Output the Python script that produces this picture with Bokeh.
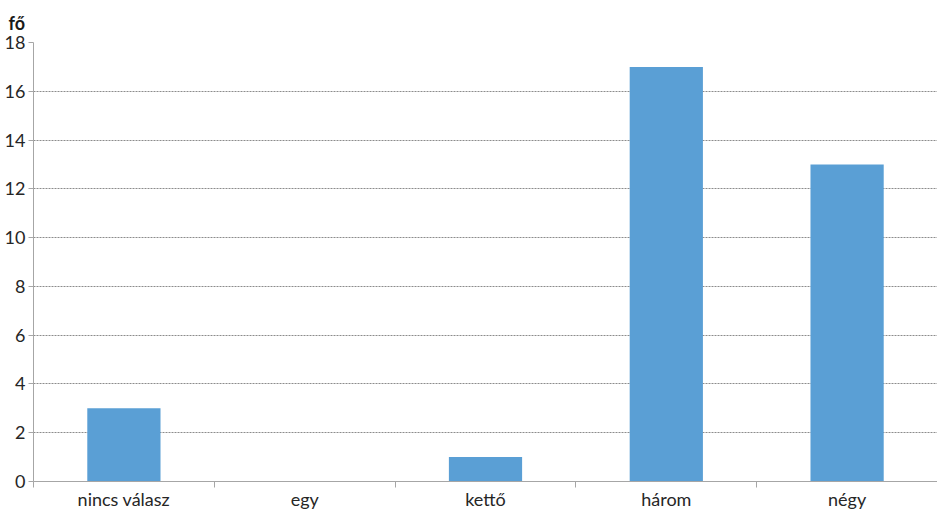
from bokeh.plotting import figure
from bokeh.models import ColumnDataSource, FixedTicker, Range1d, Title
from bokeh.embed import file_html
from bokeh.resources import INLINE

categories = ["nincs válasz", "egy", "kettő", "három", "négy"]
values = [3, 0, 1, 17, 13]
y_ticks = [0, 2, 4, 6, 8, 10, 12, 14, 16, 18]
y_unit = "fő"

xs = [i + 0.5 for i in range(len(categories))]
src = ColumnDataSource(dict(x=xs, top=values, cat=categories))

p = figure(width=937, height=512, output_backend="svg", toolbar_location=None,
           x_range=Range1d(0, len(categories)), y_range=Range1d(0, 18),
           min_border_left=33, min_border_right=0, min_border_top=40, min_border_bottom=10)
p.outline_line_color = None
p.background_fill_color = "white"
p.border_fill_color = "white"

p.vbar(x="x", top="top", width=0.405, bottom=0, source=src, color="#5A9FD5", line_color=None)

FONT = "Lato"
xt = FixedTicker(ticks=xs, minor_ticks=list(range(len(categories) + 1)))
p.xaxis.ticker = xt
p.xaxis.major_label_overrides = {x: c for x, c in zip(xs, categories)}
p.xaxis.major_tick_out = 0
p.xaxis.major_tick_in = 0
p.xaxis.minor_tick_out = 6
p.xaxis.minor_tick_in = 0
p.xaxis.minor_tick_line_color = "#a6a6a6"
p.xaxis.axis_line_color = "#a6a6a6"
p.xaxis.major_label_standoff = 0
p.xaxis.major_label_text_font = FONT
p.xaxis.major_label_text_font_size = "18px"
p.xaxis.major_label_text_color = "#262626"

p.yaxis.ticker = FixedTicker(ticks=y_ticks)
p.yaxis.minor_tick_line_color = None
p.yaxis.major_tick_out = 5
p.yaxis.major_tick_in = 0
p.yaxis.major_tick_line_color = "#a6a6a6"
p.yaxis.axis_line_color = "#a6a6a6"
p.yaxis.major_label_standoff = 3
p.yaxis.major_label_text_font = FONT
p.yaxis.major_label_text_font_size = "18px"
p.yaxis.major_label_text_color = "#262626"

p.xgrid.grid_line_color = None
p.ygrid.ticker = FixedTicker(ticks=y_ticks[1:])
p.ygrid.grid_line_color = "#8c8c8c"
p.ygrid.grid_line_dash = "2 1"
p.ygrid.grid_line_width = 1

p.add_layout(Title(text=y_unit, align="left", offset=-25, standoff=18,
                   text_font=FONT, text_font_style="bold", text_font_size="18px",
                   text_color="#1a1a1a"), "above")

open("out.html", "w").write(file_html(p, INLINE))
